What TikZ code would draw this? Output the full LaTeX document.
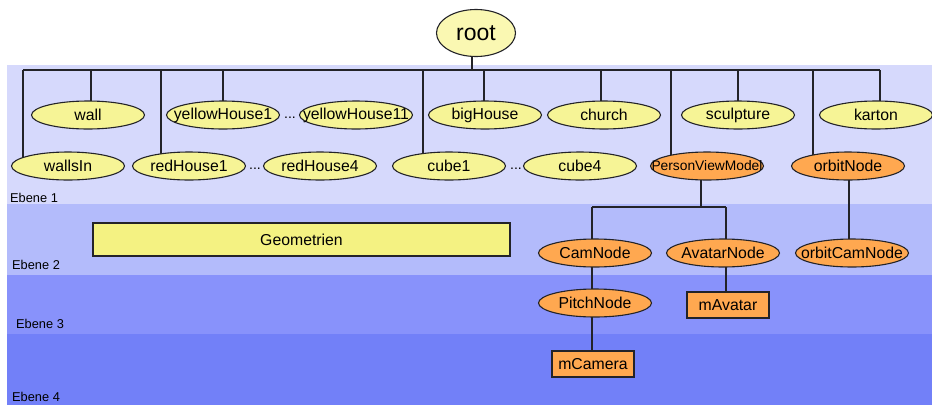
\documentclass[tikz,border=0pt]{standalone}
\usepackage{fontspec}
\setmainfont{Liberation Sans}
\usetikzlibrary{shapes.geometric}
\pgfdeclarelayer{bands}
\pgfdeclarelayer{wires}
\pgfsetlayers{bands,wires,main}

\definecolor{bandA}{RGB}{214,217,252}
\definecolor{bandB}{RGB}{179,187,251}
\definecolor{bandC}{RGB}{136,146,251}
\definecolor{bandD}{RGB}{114,128,248}
\definecolor{leafyellow}{RGB}{246,244,150}
\definecolor{rootyellow}{RGB}{250,248,178}
\definecolor{geoyellow}{RGB}{244,242,130}
\definecolor{camorange}{RGB}{255,168,80}
\definecolor{inkline}{RGB}{35,35,40}

\tikzset{
  every node/.style={text=black},
  % fixed-size ellipse: the negative x padding keeps long labels from widening it
  leaf/.style={ellipse, draw=inkline, line width=1.1pt, fill=leafyellow,
    minimum width=113pt, minimum height=28pt, inner xsep=-32pt, inner ysep=0pt,
    font=\fontsize{15.8}{16}\selectfont},
  camleaf/.style={leaf, fill=camorange},
  camrect/.style={draw=inkline, line width=1.1pt, fill=camorange,
    minimum width=82pt, minimum height=26pt, inner sep=0pt,
    font=\fontsize{15.8}{16}\selectfont},
  wire/.style={draw=inkline, line width=1.2pt},
  layerlabel/.style={anchor=west, inner sep=0pt, font=\fontsize{12.8}{13}\selectfont},
  dots/.style={inner sep=0pt, font=\fontsize{14}{14}\selectfont},
}

\begin{document}
\begin{tikzpicture}[x=1pt, y=-1pt]
\useasboundingbox (0,0) rectangle (932,405);

% layer bands
\begin{pgfonlayer}{bands}
  \fill[bandA] (7,65) rectangle (932,204);
  \fill[bandB] (7,204) rectangle (932,275);
  \fill[bandC] (7,275) rectangle (932,334);
  \fill[bandD] (7,334) rectangle (932,405);
\end{pgfonlayer}

% root
\node[ellipse, draw=inkline, line width=1.1pt, fill=rootyellow,
  minimum width=79pt, minimum height=47pt, inner sep=0pt,
  font=\fontsize{23}{24}\selectfont] (root) at (476,33) {root};

% first row
\node[leaf] (wall)   at (88,115)  {wall};
\node[leaf] (yh1)    at (223,115) {yellowHouse1};
\node[dots]          at (290,118) {...};
\node[leaf] (yh11)   at (356,115) {yellowHouse11};
\node[leaf] (bigh)   at (485,115) {bigHouse};
\node[leaf] (church) at (604,115) {church};
\node[leaf] (sculpt) at (738,115) {sculpture};
\node[leaf] (karton) at (876,115) {karton};

% second row
\node[leaf] (wallsin) at (68,166)  {wallsIn};
\node[leaf] (rh1)     at (189,166) {redHouse1};
\node[dots]           at (255,169) {...};
\node[leaf] (rh4)     at (320,166) {redHouse4};
\node[leaf] (cube1)   at (449,166) {cube1};
\node[dots]           at (516,169) {...};
\node[leaf] (cube4)   at (580,166) {cube4};
\node[camleaf, font=\fontsize{13.8}{14}\selectfont] (pvm) at (707,166) {PersonViewModel};
\node[camleaf] (orbit) at (848,166) {orbitNode};

% deeper levels
\node[draw=inkline, line width=1.1pt, fill=geoyellow, minimum width=417pt,
  minimum height=33pt, inner sep=0pt, font=\fontsize{15.8}{16}\selectfont]
  (geo) at (301.5,239.5) {Geometrien};
\node[camleaf] (cam)      at (595,253) {CamNode};
\node[camleaf] (avatar)   at (723,253) {AvatarNode};
\node[camleaf] (orbitcam) at (852,253) {orbitCamNode};
\node[camleaf] (pitch)    at (595,303) {PitchNode};
\node[camrect] (mavatar)  at (728,305) {mAvatar};
\node[camrect] (mcamera)  at (593,364) {mCamera};

% layer labels
\node[layerlabel] (e1) at (10,198) {Ebene 1};
\node[layerlabel] (e2) at (12,265) {Ebene 2};
\node[layerlabel] (e3) at (16,324) {Ebene 3};
\node[layerlabel] (e4) at (12,397) {Ebene 4};

% connectors
\coordinate (busL) at (23,70);
\coordinate (busR) at (880,70);
\coordinate (tRoot) at (472,70);
\coordinate (tWall) at (91,70);
\coordinate (tRed) at (161,70);
\coordinate (tYel) at (223,70);
\coordinate (tCube) at (423,70);
\coordinate (tBig) at (484,70);
\coordinate (tChurch) at (601,70);
\coordinate (tPvm) at (671,70);
\coordinate (tSculpt) at (738,70);
\coordinate (tOrbit) at (813,70);
\coordinate (pj) at (701,207);
\coordinate (cj) at (592,207);
\coordinate (aj) at (726,207);
\coordinate (oj) at (849,207);

\begin{pgfonlayer}{wires}
  \draw[wire] (tRoot |- root.center) -- (tRoot);
  \draw[wire] (busL) -- (busR);
  \draw[wire] (busL) -- (busL |- wallsin.center);
  \draw[wire] (tWall) -- (tWall |- wall.center);
  \draw[wire] (tRed) -- (tRed |- rh1.center);
  \draw[wire] (tYel) -- (tYel |- yh1.center);
  \draw[wire] (tCube) -- (tCube |- cube1.center);
  \draw[wire] (tBig) -- (tBig |- bigh.center);
  \draw[wire] (tChurch) -- (tChurch |- church.center);
  \draw[wire] (tPvm) -- (tPvm |- pvm.center);
  \draw[wire] (tSculpt) -- (tSculpt |- sculpt.center);
  \draw[wire] (tOrbit) -- (tOrbit |- orbit.center);
  \draw[wire] (busR) -- (busR |- karton.center);
  % PersonViewModel subtree
  \draw[wire] (pj |- pvm.center) -- (pj);
  \draw[wire] (cj) -- (aj);
  \draw[wire] (cj) -- (cj |- cam.center);
  \draw[wire] (aj) -- (aj |- avatar.center);
  \draw[wire] (cj |- cam.center) -- (cj |- pitch.center);
  \draw[wire] (cj |- pitch.center) -- (cj |- mcamera.center);
  \draw[wire] (aj |- avatar.center) -- (aj |- mavatar.center);
  % orbit subtree
  \draw[wire] (oj |- orbit.center) -- (oj |- orbitcam.center);
\end{pgfonlayer}
\end{tikzpicture}
\end{document}
